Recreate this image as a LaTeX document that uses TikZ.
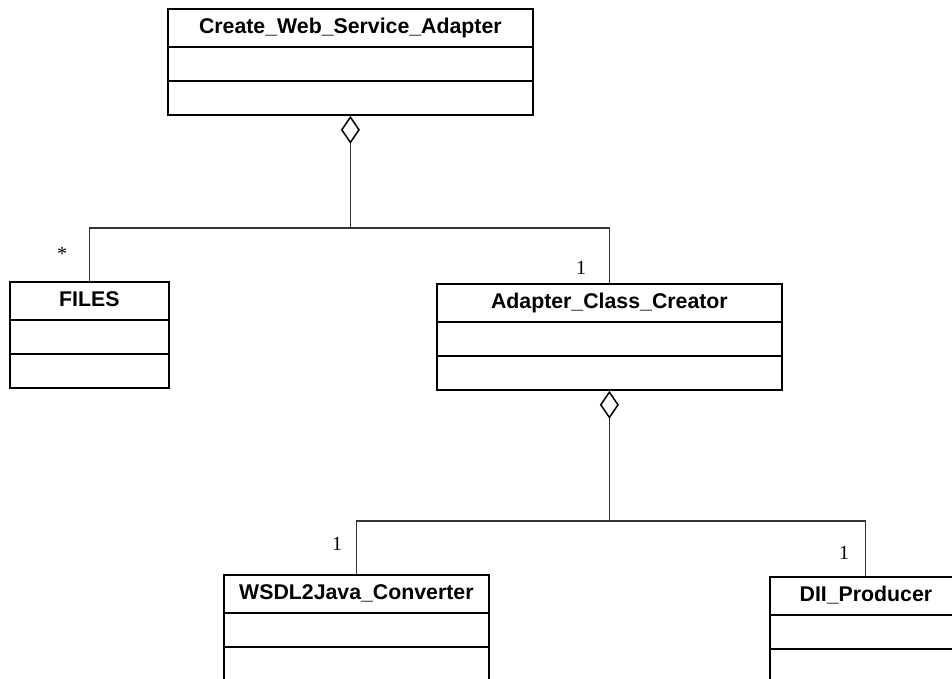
\documentclass[tikz,border=0pt]{standalone}
\usepackage{fontspec}
\setmainfont{Liberation Serif}
\newfontfamily\classfont{Liberation Sans}
\usetikzlibrary{arrows.meta}
\tikzset{
  classbox/.style={draw=black, line width=1.8pt, anchor=north west, inner sep=0pt,
    minimum height=106pt,
    path picture={
      \draw[line width=1.8pt]
        ([yshift=-38pt]path picture bounding box.north west) -- ([yshift=-38pt]path picture bounding box.north east)
        ([yshift=-72pt]path picture bounding box.north west) -- ([yshift=-72pt]path picture bounding box.north east);
    }},
  classname/.style={font=\classfont\bfseries\fontsize{21.3}{24}\selectfont, inner sep=0pt, anchor=base},
  mult/.style={font=\fontsize{20}{23}\selectfont, inner sep=0pt},
  conn/.style={draw=black!80, line width=1.1pt},
  aggr/.style={conn, {Diamond[open, length=28pt, width=19pt, line width=1.5pt, color=black]}-},
}
\begin{document}
\begin{tikzpicture}[x=1pt, y=1pt]
\clip (0,0) rectangle (952,-679);
\fill[white] (0,0) rectangle (952,-679);

% class boxes with their names set on a common baseline
\node[classbox, minimum width=365pt] (cwsa) at (167,-8) {};
\node[classname] (cwsa-t) at ([yshift=-25.5pt]cwsa.north) {Create\_Web\_Service\_Adapter};

\node[classbox, minimum width=159pt] (files) at (9,-281) {};
\node[classname] (files-t) at ([yshift=-25.5pt]files.north) {FILES};

\node[classbox, minimum width=345pt] (acc) at (436,-283) {};
\node[classname] (acc-t) at ([yshift=-25.5pt]acc.north) {Adapter\_Class\_Creator};

\node[classbox, minimum width=265pt] (wsdl) at (223,-574) {};
\node[classname] (wsdl-t) at ([yshift=-25.5pt]wsdl.north) {WSDL2Java\_Converter};

\node[classbox, minimum width=192pt] (dii) at (769,-576) {};
\node[classname] (dii-t) at ([yshift=-25.5pt]dii.north) {DII\_Producer};

% junction points of the aggregation trees
\coordinate (j1) at (cwsa.south |- 0,-228);
\coordinate (j2) at (acc.south |- 0,-521);

% aggregations
\draw[aggr] (cwsa.south) -- (j1);
\draw[conn] (files.north) |- (j1) -| (acc.north);

\draw[aggr] (acc.south) -- (j2);
\draw[conn] (wsdl.north) |- (j2) -| (dii.north);

% multiplicities
\node[mult] (m-files) at (62,-254) {*};
\node[mult] (m-acc) at (581,-268) {1};
\node[mult] (m-wsdl) at (337,-544) {1};
\node[mult] (m-dii) at (844,-553) {1};
\end{tikzpicture}
\end{document}
